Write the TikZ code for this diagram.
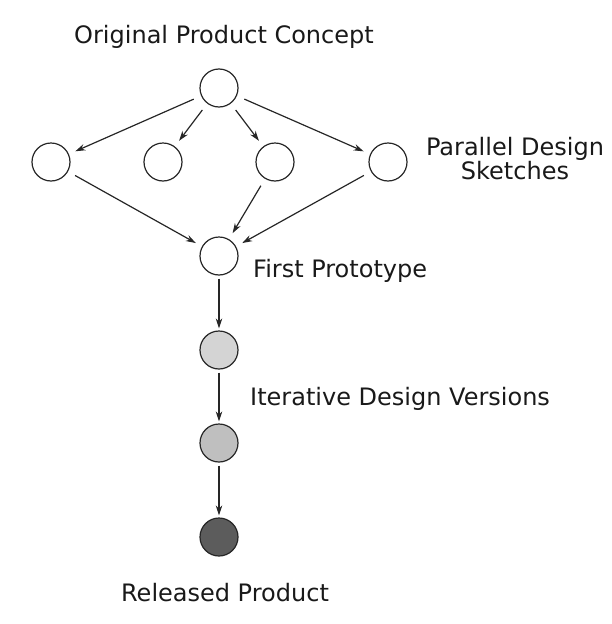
\documentclass[tikz,border=0pt]{standalone}
\usepackage{fontspec}
\setmainfont{DejaVu Sans}
\usetikzlibrary{arrows.meta}

\tikzset{
	stage/.style={shape=circle, draw=black!85, line width=1.2pt,
		minimum size=38pt, inner sep=0pt},
	lbl/.style={font=\fontsize{24}{21}\selectfont, text=black!90, inner sep=0pt},
	arr/.style={-{Stealth[length=10pt, width=6.5pt]}, line width=1.2pt,
		draw=black!85, shorten <=3pt, shorten >=2pt},
	diag/.style={arr, shorten <=8pt, shorten >=7pt}
}

\begin{document}
\begin{tikzpicture}[x=1pt, y=-1pt]
	\useasboundingbox (0,0) rectangle (612,624);
	% Nodes:
	\node[stage] (concept) at (219, 88){};
	\node[stage] (sk1) at (51, 162){};
	\node[stage] (sk2) at (163, 162){};
	\node[stage] (sk3) at (275, 162){};
	\node[stage] (sk4) at (388, 162){};
	\node[stage] (proto) at (219, 256){};
	\node[stage, fill=black!17] (ver1) at (219, 350){};
	\node[stage, fill=black!25] (ver2) at (219, 443){};
	\node[stage, fill=black!64] (released) at (219, 537){};
	
	% Labels
	\node[lbl, anchor=base] (conceptlbl) at (224, 43){Original Product Concept};
	\node[lbl, anchor=north, align=center] (sketchlbl) at (515, 137)
	{Parallel Design\\Sketches};
	\node[lbl, anchor=base west] (protolbl) at (253, 277){First Prototype};
	\node[lbl, anchor=base west] (verlbl) at (250, 405){Iterative Design Versions};
	\node[lbl, anchor=base] (releasedlbl) at (225, 601){Released Product};
	
	% Sketches fan out and merge again
	\draw[diag] (concept) -- (sk1);
	\draw[diag] (concept) -- (sk2);
	\draw[diag] (concept) -- (sk3);
	\draw[diag] (concept) -- (sk4);
	\draw[diag] (sk1) -- (proto);
	\draw[diag] (sk3) -- (proto);
	\draw[diag] (sk4) -- (proto);
	
	% Iterations
	\draw[arr] (proto) -- (ver1);
	\draw[arr] (ver1) -- (ver2);
	\draw[arr] (ver2) -- (released);
\end{tikzpicture}
\end{document}
